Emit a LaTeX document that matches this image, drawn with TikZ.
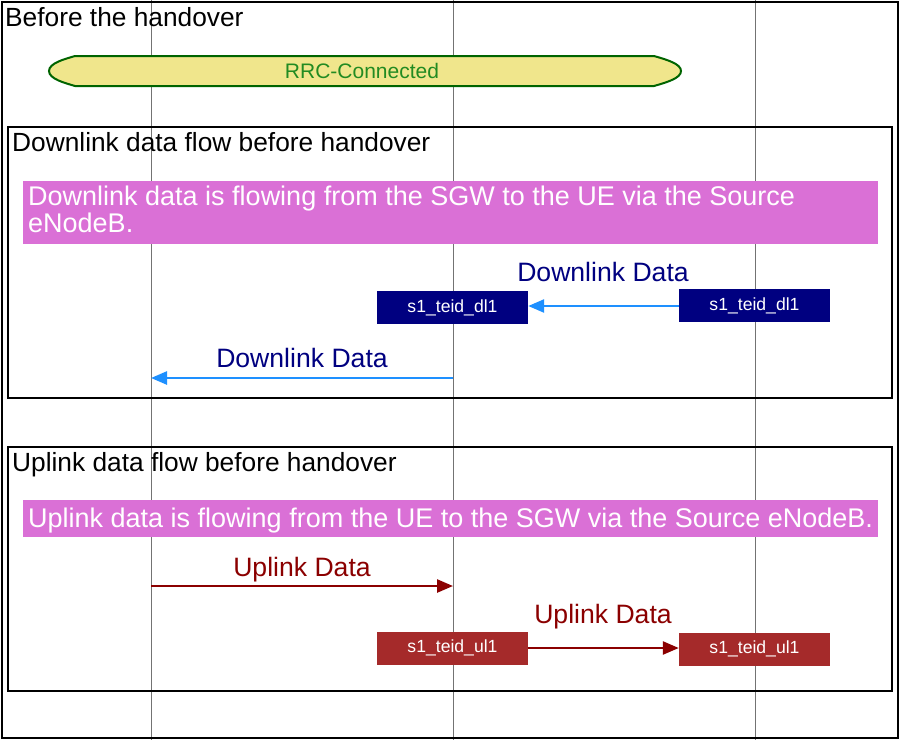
\documentclass[tikz,border=0pt]{standalone}
\usepackage{fontspec}
\setmainfont{Liberation Sans}
\usetikzlibrary{arrows.meta}
\definecolor{orchidc}{RGB}{218,112,214}
\definecolor{khakic}{RGB}{240,230,140}
\definecolor{dgreen}{RGB}{0,100,0}
\definecolor{fgreen}{RGB}{34,139,34}
\definecolor{dodger}{RGB}{30,144,255}
\definecolor{navyc}{RGB}{0,0,128}
\definecolor{dredc}{RGB}{139,0,0}
\definecolor{brownc}{RGB}{165,42,42}
\tikzset{
  lifeline/.style={draw=gray!90!black, line width=1pt},
  frame/.style={draw=black, line width=2pt},
  title/.style={anchor=base west, inner sep=0pt, font=\fontsize{26.3}{30}\selectfont},
  banner/.style={fill=orchidc, draw=none},
  bannertext/.style={anchor=base west, inner sep=0pt, text=white, font=\fontsize{27}{27}\selectfont, align=left},
  teidbox/.style={minimum width=151pt, minimum height=33pt, inner sep=0pt, text=white, font=\fontsize{17.6}{20}\selectfont},
  dlarrow/.style={draw=dodger, line width=2.5pt, -{Triangle[length=16pt,width=13pt]}},
  ularrow/.style={draw=dredc, line width=2.5pt, -{Triangle[length=16pt,width=13pt]}},
  msglabel/.style={anchor=base, inner sep=0pt, font=\fontsize{26.6}{30}\selectfont},
}
\begin{document}
\begin{tikzpicture}[x=1pt,y=-1pt]
\useasboundingbox (0,0) rectangle (900,740);
\fill[white] (0,0) rectangle (900,740);
% lifelines
\coordinate (ueT) at (151,0); \coordinate (ueB) at (151,740);
\coordinate (enbT) at (453,0); \coordinate (enbB) at (453,740);
\coordinate (sgwT) at (755,0); \coordinate (sgwB) at (755,740);
\draw[lifeline] (ueT) -- (ueB);
\draw[lifeline] (enbT) -- (enbB);
\draw[lifeline] (sgwT) -- (sgwB);
% outer frame
\draw[frame] (2,2) rectangle (898,738);
\node[title] (t0) at (5,26) {Before the handover};
% RRC state
\draw[draw=dgreen, fill=khakic, line width=2pt]
  (49,71) .. controls (49,63) and (65,59) .. (75,56) -- (654,56)
  .. controls (668,60) and (681,64) .. (681,71)
  .. controls (681,78) and (668,82) .. (654,86) -- (75,86)
  .. controls (65,83) and (49,79) .. (49,71) -- cycle;
\node[inner sep=0pt, text=fgreen, font=\fontsize{21}{24}\selectfont] (rrc) at (362,71) {RRC-Connected};
% Downlink group
\draw[frame] (8,127) rectangle (892,398);
\node[title] (t1) at (12,151) {Downlink data flow before handover};
\fill[banner] (23,181) rectangle (878,244);
\node[bannertext] (b1) at (28,232) {Downlink data is flowing from the SGW to the UE via the Source\\eNodeB.};
\node[teidbox, fill=navyc] (dlA) at (452.5,307.5) {s1\_teid\_dl1};
\node[teidbox, fill=navyc] (dlB) at (754.5,305.5) {s1\_teid\_dl1};
\draw[dlarrow] (dlB.west |- 0,306) -- (dlA.east |- 0,306);
\node[msglabel, text=navyc] (l1) at (603,281) {Downlink Data};
\coordinate (d2s) at (453,378); \coordinate (d2e) at (151,378);
\draw[dlarrow] (d2s) -- (d2e);
\node[msglabel, text=navyc] (l2) at (302,367) {Downlink Data};
% Uplink group
\draw[frame] (8,447) rectangle (892,691);
\node[title] (t2) at (12,471) {Uplink data flow before handover};
\fill[banner] (23,500) rectangle (878,537);
\node[bannertext] (b2) at (28,527) {Uplink data is flowing from the UE to the SGW via the Source eNodeB.};
\coordinate (u1s) at (151,586); \coordinate (u1e) at (453,586);
\draw[ularrow] (u1s) -- (u1e);
\node[msglabel, text=dredc] (l3) at (302,576) {Uplink Data};
\node[teidbox, fill=brownc] (ulA) at (452.5,648) {s1\_teid\_ul1};
\node[teidbox, fill=brownc] (ulB) at (754.5,649) {s1\_teid\_ul1};
\draw[ularrow] (ulA.east |- 0,648) -- (ulB.west |- 0,648);
\node[msglabel, text=dredc] (l4) at (603,623) {Uplink Data};
\end{tikzpicture}
\end{document}
